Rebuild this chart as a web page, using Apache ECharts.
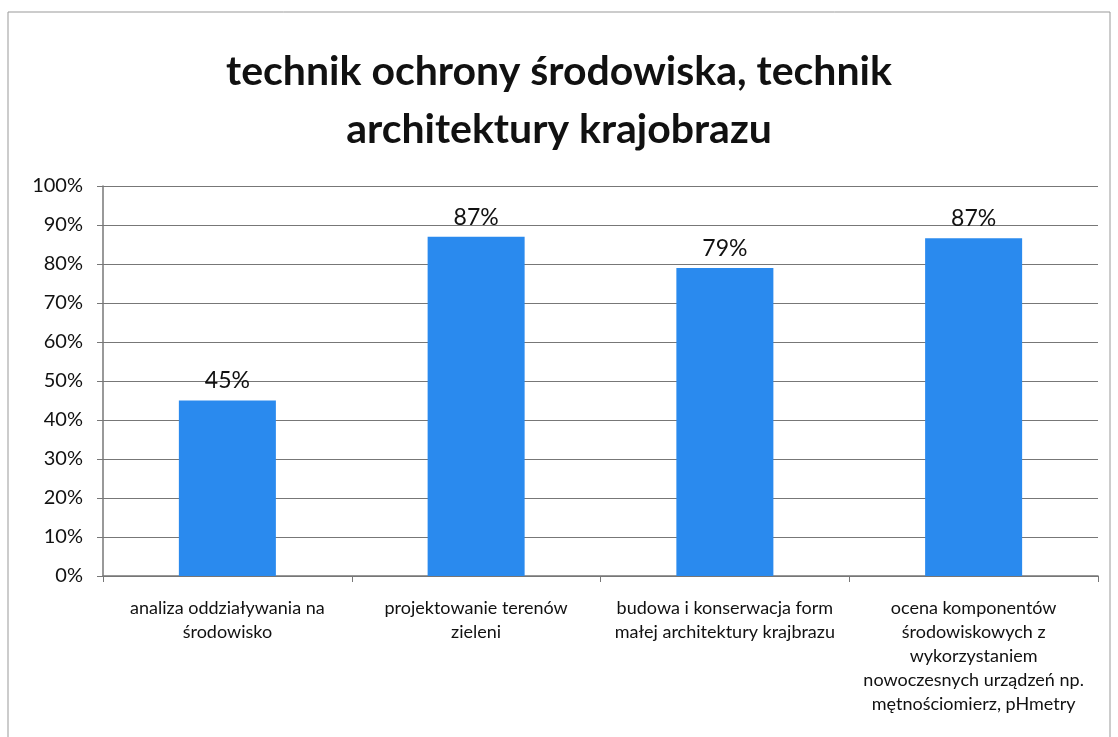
<!DOCTYPE html>
<html>
<head>
<meta charset="utf-8">
<script src="https://cdn.jsdelivr.net/npm/echarts@6/dist/echarts.min.js"></script>
<style>
  html, body { margin: 0; padding: 0; background: #fff; }
  #chart { width: 1118px; height: 737px; }
</style>
</head>
<body>
<div id="chart"></div>
<script>
const categories = [
  'analiza oddziaływania na\nśrodowisko',
  'projektowanie terenów\nzieleni',
  'budowa i konserwacja form\nmałej architektury krajbrazu',
  'ocena komponentów\nśrodowiskowych z\nwykorzystaniem\nnowoczesnych urządzeń np.\nmętnościomierz, pHmetry'
];
const values = [45, 87, 79, 86.6];
const yTicks = [0, 10, 20, 30, 40, 50, 60, 70, 80, 90, 100];

const myChart = echarts.init(document.getElementById('chart'));
const font = 'Lato, "Open Sans", sans-serif';

const options = {
  backgroundColor: '#fff',
  animation: false,
  title: {
    text: 'technik ochrony środowiska, technik\narchitektury krajobrazu',
    left: 'center',
    top: 38,
    textStyle: {
      fontFamily: font,
      fontWeight: 'bold',
      fontSize: 41,
      lineHeight: 58,
      color: '#111'
    }
  },
  graphic: [{
    type: 'rect',
    shape: { x: 8, y: 12, width: 1102, height: 740 },
    style: { fill: 'none', stroke: '#999', lineWidth: 1 }
  }],
  grid: { left: 103, right: 20, top: 186, bottom: 161 },
  xAxis: {
    type: 'category',
    data: categories,
    axisLine: { lineStyle: { color: '#777', width: 1.5 } },
    axisTick: { show: true, length: 6, lineStyle: { color: '#777' } },
    axisLabel: {
      fontFamily: font,
      fontSize: 18,
      lineHeight: 24,
      color: '#111',
      margin: 20,
      interval: 0
    }
  },
  yAxis: {
    type: 'value',
    min: yTicks[0],
    max: yTicks[yTicks.length - 1],
    interval: 10,
    axisLine: { show: true, lineStyle: { color: '#777', width: 1.5 } },
    axisTick: { show: true, length: 6, lineStyle: { color: '#777' } },
    splitLine: { lineStyle: { color: '#777', width: 1.2 } },
    axisLabel: {
      fontFamily: font,
      fontSize: 20,
      color: '#111',
      margin: 20,
      formatter: '{value}%'
    }
  },
  series: [{
    type: 'bar',
    data: values,
    barWidth: '39%',
    itemStyle: { color: '#2a8aee' },
    label: {
      show: true,
      position: 'top',
      distance: 8,
      fontFamily: font,
      fontSize: 23,
      color: '#111',
      formatter: p => Math.round(p.value) + '%'
    }
  }]
};
myChart.setOption(options);
</script>
</body>
</html>
